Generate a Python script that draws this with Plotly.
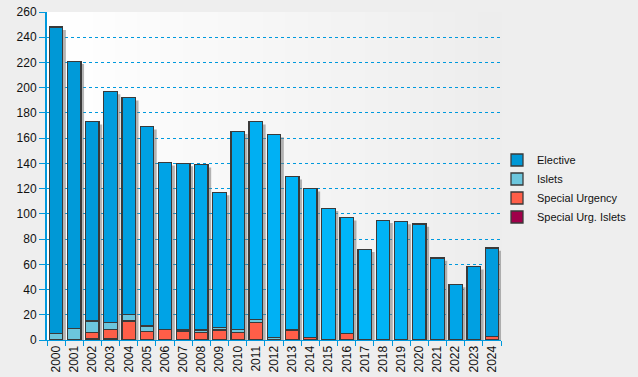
import plotly.graph_objects as go

years = [str(y) for y in range(2000, 2025)]
elective = [243, 212, 158, 183, 172, 158, 132, 132, 131, 107, 157, 157, 161,
            121, 118, 104, 92, 72, 95, 94, 92, 65, 44, 58, 70]
islets = [5, 9, 9, 5.5, 5, 4, 0, 1, 2, 2, 2.5, 2, 2,
          0.5, 0, 0, 0, 0, 0, 0, 0, 0, 0, 0, 0]
special_urgency = [0, 0, 5, 7.5, 15, 7, 8.5, 7, 6, 8, 6, 14, 0,
                   8, 2, 0.5, 5, 0, 0, 0, 0, 0, 0, 0, 3]
special_urg_islets = [0, 0, 1, 1, 0, 0, 0, 0, 0, 0, 0, 0, 0,
                      0, 0, 0, 0, 0, 0, 0, 0, 0, 0, 0, 0]
y_ticks = list(range(0, 261, 20))

elective_bar_colors = ["#0098d6", "#009ad9", "#009bdb", "#009dde", "#009fe0", "#00a1e3",
                       "#00a3e6", "#00a6e9", "#00a8eb", "#00aaee", "#00acf0", "#00aff2",
                       "#00b1f4", "#00b3f6", "#00b5f8", "#00b6f9", "#00b6f9", "#00b5f8",
                       "#00b3f6", "#00b0f3", "#00adf0", "#00a9ec", "#00a5e8", "#00a0e2",
                       "#009cdd"]

totals = [a + b + c + d for a, b, c, d in zip(elective, islets, special_urgency, special_urg_islets)]

fig = go.Figure()

line = dict(color="#3a3a3a", width=1.3)
W = 0.74

fig.add_trace(go.Bar(x=years, y=special_urg_islets, name="Special Urg. Islets",
                     marker=dict(color="#a0004a", line=line), width=W, legendrank=4))
fig.add_trace(go.Bar(x=years, y=special_urgency, name="Special Urgency",
                     marker=dict(color="#ff5e48", line=line), width=W, legendrank=3))
fig.add_trace(go.Bar(x=years, y=islets, name="Islets",
                     marker=dict(color="#6cc6dd", line=line), width=W, legendrank=2))
fig.add_trace(go.Bar(x=years, y=elective, name="Elective",
                     marker=dict(color=elective_bar_colors, line=line), width=W, legendrank=1))

# gradient background strips (decoration)
n = 40
for i in range(n):
    v = int(round(255 - (255 - 237) * i / (n - 1)))
    fig.add_shape(type="rect", xref="x domain", yref="y domain",
                  x0=i / n, x1=(i + 1) / n + 0.002, y0=0, y1=1,
                  fillcolor=f"rgb({v},{v},{v})", line=dict(width=0), layer="below")

# drop shadows behind each bar, placed through the data axes
for i, t in enumerate(totals):
    fig.add_shape(type="rect", xref="x", yref="y",
                  x0=i - W / 2 + 0.17, x1=i + W / 2 + 0.17, y0=0, y1=t - 2.2,
                  fillcolor="rgba(120,120,120,0.55)", line=dict(width=0), layer="between")

fig.update_layout(
    width=638, height=377,
    margin=dict(l=47, r=137, t=12, b=37, autoexpand=False),
    paper_bgcolor="#eeeeee", plot_bgcolor="#ffffff",
    barmode="stack",
    font=dict(family="Liberation Sans, Arial, sans-serif", size=12, color="#222222"),
    showlegend=True,
    legend=dict(xref="container", yref="container", x=0.779, y=0.50,
                xanchor="left", yanchor="middle",
                bgcolor="rgba(0,0,0,0)", font=dict(size=11, color="#111111"),
                tracegroupgap=0, traceorder="normal", itemwidth=30),
    xaxis=dict(type="category", range=[-0.5, 24.5], tickangle=-90,
               showline=True, linecolor="#0099dd", linewidth=1,
               ticks="outside", tickson="boundaries", ticklen=5, tickcolor="#0099dd",
               showgrid=False, tickfont=dict(size=12, color="#111111")),
    yaxis=dict(range=[0, 260], tickvals=y_ticks, showline=True, linecolor="#0099dd",
               linewidth=2, ticks="outside", ticklen=6, tickcolor="#0099dd",
               showgrid=True, gridcolor="#0099dd", griddash="dot", gridwidth=1,
               zeroline=False, tickfont=dict(size=12, color="#111111")),
)

fig.write_html("out.html", config={"displayModeBar": False},
               post_script="document.body.style.margin='0';document.body.style.background='#eeeeee';")
